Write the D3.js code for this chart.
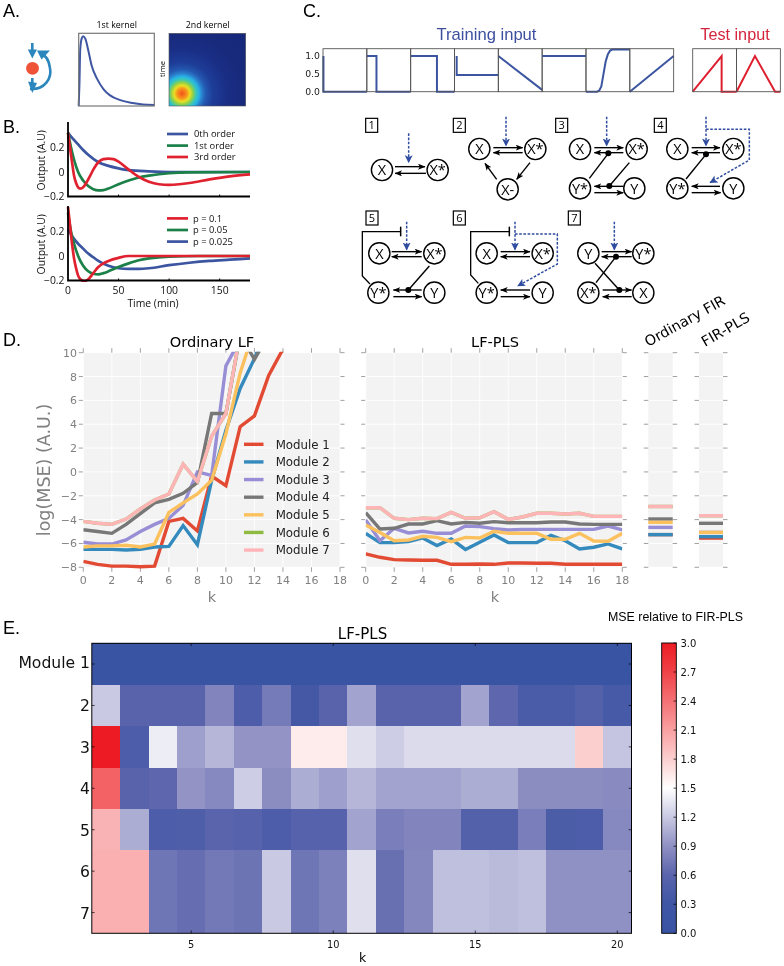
<!DOCTYPE html>
<html><head><meta charset="utf-8">
<script src="https://cdnjs.cloudflare.com/ajax/libs/d3/7.8.5/d3.min.js"></script>
<style>
html,body{margin:0;padding:0;background:#fff}
svg{display:block;filter:blur(.3px)}
text{font-family:"DejaVu Sans",sans-serif}
.os{font-family:"Open Sans",sans-serif}
.ls{font-family:"Liberation Sans",sans-serif}
</style></head><body>
<script>
// ---------- data ----------
const kernelT=[0,.01,.02,.04,.06,.09,.13,.17,.24,.33,.41,.55,.72,.85,1];
const kernelV=[0,.31,.77,.93,.96,.92,.75,.56,.38,.23,.15,.08,.04,.02,.015];
const kernel2Radii=[0,5,8,11,14,17,20,24,31,45,60,95];
const kernel2Colors=['#f0521c','#f8951c','#e9e023','#8fd04a','#3cc7b4','#27b4e6','#2a80cc','#2458b0','#1d3d98','#1a2e86','#172a7c','#15277a'];

const bTimeTop0=[0,5,10,15,20,30,40,50,60,80,100,180];
const bOrder0=[.32,.27,.225,.18,.14,.08,.05,.03,.015,.005,0,0];
const bTimeTop1=[0,3,6,10,15,20,25,30,35,40,50,60,70,80,100,120,180];
const bOrder1=[.32,.2,.1,0,-.07,-.115,-.14,-.15,-.148,-.135,-.1,-.07,-.045,-.03,-.01,-.003,0];
const bTimeTop3=[0,2,4,6,8,10,12,15,18,22,25,30,35,40,45,50,60,70,80,90,100,110,120,140,160,180];
const bOrder3=[.32,.2,.08,-.03,-.09,-.125,-.135,-.125,-.09,-.03,.02,.08,.105,.11,.105,.085,.02,-.04,-.08,-.1,-.105,-.1,-.09,-.06,-.035,-.02];
const bTimeP1=[0,2,4,6,8,10,13,16,20,25,30,35,40,50,60,70,180];
const bP1=[.4,.25,.1,-.02,-.1,-.16,-.195,-.205,-.19,-.14,-.09,-.06,-.04,-.015,0,0,0];
const bTimeP05=[0,3,6,10,15,20,25,30,35,40,50,60,70,80,100,130,180];
const bP05=[.35,.2,.1,0,-.08,-.125,-.145,-.15,-.14,-.125,-.09,-.06,-.035,-.02,-.005,0,0];
const bTimeP025=[0,5,10,15,20,25,30,40,50,60,70,80,100,120,140,160,180];
const bP025=[.22,.15,.1,.06,.02,-.01,-.04,-.08,-.1,-.105,-.105,-.1,-.075,-.055,-.04,-.03,-.02];

const trainInputs=[
 [[0.01,1],[0.01,0],[1,0]],
 [[0,1],[.22,1],[.22,0],[1,0]],
 [[0,1],[.6,1],[.6,0],[1,0]],
 [[.05,1],[.05,.47],[1,.47]],
 [[0,1],[1,.05]],
 [[0,1],[1,1]],
 [[0,0],[.25,0],[.3,.03],[.35,.15],[.4,.5],[.45,.85],[.5,1.05],[.55,1.15],[.6,1.18],[1,1.18]],
 [[0,0],[1,1]]];
const testInputs=[
 [[0,0],[.66,1],[.66,0],[1,0]],
 [[0,0],[.42,1],[.88,0],[1,0]]];

const moduleNames=['Module 1','Module 2','Module 3','Module 4','Module 5','Module 6','Module 7'];
const moduleColors=['#e24a33','#348abd','#988ed5','#777777','#fbc15e','#8eba42','#ffb5b8'];
const kValues=d3.range(0,19);
const lf1=[-7.5,-7.75,-7.9,-7.9,-7.95,-7.9,-4.15,-3.9,-4.95,-.35,-1.15,3.8,4.7,8.1,10.3,14,14,14,14];
const lf2=[-6.5,-6.5,-6.5,-6.55,-6.5,-6.3,-6.25,-4.5,-6.1,-.7,3.5,7,9.5,12.5,14,14,14,14,14];
const lf3=[-5.9,-6.05,-6.05,-5.7,-5,-4.4,-3.9,-2.8,0,-.3,8.9,11.1,14,14,14,14,14,14,14];
const lf4=[-4.85,-5,-5.15,-4.4,-3.5,-2.6,-2.3,-1.8,-.9,4.9,4.9,11.5,9.45,11.5,15,15,15,15,15];
const lf5=[-6.3,-6.2,-6.2,-6.15,-6.3,-6.05,-3.4,-2.6,-1.85,-.7,3.2,8.3,12,15,15,15,15,15,15];
const lf6=[-4.15,-4.3,-4.4,-3.95,-3.1,-2.35,-1.85,.65,-.8,3,4.9,11.6,15,15,15,15,15,15,15];
const lf7=[-4.15,-4.3,-4.4,-3.95,-3.1,-2.35,-1.85,.65,-.8,3,4.9,11.6,15,15,15,15,15,15,15];
const lfSeries=[lf1,lf2,lf3,lf4,lf5,lf6,lf7];
const pls1=[-6.88,-7.16,-7.36,-7.39,-7.41,-7.41,-7.75,-7.75,-7.72,-7.75,-7.64,-7.64,-7.66,-7.66,-7.75,-7.75,-7.75,-7.75,-7.75];
const pls2=[-5.15,-5.93,-5.93,-5.85,-5.54,-6.18,-5.63,-6.5,-5.9,-5.29,-5.93,-5.93,-5.93,-5.32,-5.77,-6.46,-6.32,-6.04,-6.46];
const pls3=[-4.03,-5.77,-4.73,-5.12,-4.98,-5.15,-5.15,-4.54,-4.59,-4.76,-4.87,-4.82,-4.82,-4.82,-4.82,-4.82,-4.82,-4.54,-4.87];
const pls4=[-3.42,-4.79,-4.73,-4.37,-4.37,-4.09,-4.37,-4.23,-4.31,-4.17,-4.26,-4.26,-4.26,-4.2,-4.2,-4.37,-4.4,-4.4,-4.4];
const pls5=[-4.45,-5.09,-5.77,-5.71,-5.4,-5.49,-5.85,-5.49,-5.54,-4.98,-5.15,-5.15,-5.15,-5.65,-5.65,-5.15,-5.79,-5.82,-5.15];
const pls6=[-3,-3,-3.89,-4,-3.89,-3.92,-3.39,-3.89,-3.84,-3.34,-3.98,-3.78,-3.47,-3.47,-3.53,-3.47,-3.73,-3.73,-3.73];
const pls7=[-3,-3,-3.89,-4,-3.89,-3.92,-3.39,-3.89,-3.84,-3.34,-3.98,-3.78,-3.47,-3.47,-3.53,-3.47,-3.73,-3.73,-3.73];
const plsSeries=[pls1,pls2,pls3,pls4,pls5,pls6,pls7];
const firOrdinary=[-5.26,-5.26,-4.65,-3.95,-4.23,-2.9,-2.9];
const firPls=[-5.55,-5.43,-5.07,-4.31,-5.07,-3.67,-3.67];

const heatK=d3.range(2,21);
const heatM=d3.range(1,8);
const heatRow1=[.05,.05,.05,.05,.05,.05,.05,.05,.05,.05,.05,.05,.05,.05,.05,.05,.05,.05,.05];
const heatRow2=[1.2,.58,.58,.58,.82,.45,.75,.35,.58,1.0,.58,.58,.58,1.0,.62,.42,.42,.52,.38];
const heatRow3=[3.0,.45,1.4,.98,1.1,.92,.92,1.62,1.62,1.32,1.22,1.3,1.3,1.3,1.3,1.3,1.3,1.8,1.18];
const heatRow4=[2.5,.58,.62,.92,.85,1.22,.88,1.05,.98,1.1,1.0,1.0,1.0,1.05,1.05,.88,.88,.88,.86];
const heatRow5=[1.98,1.05,.45,.48,.6,.56,.46,.56,.56,1.0,.78,.82,.82,.52,.52,.78,.44,.46,.85];
const heatRow6=[2.0,2.0,.72,.67,.74,.71,1.2,.72,.8,1.32,.68,.84,1.15,1.15,1.12,1.15,.9,.9,.9];
const heatRow7=[2.0,2.0,.72,.67,.74,.71,1.2,.72,.8,1.32,.68,.84,1.15,1.15,1.12,1.15,.9,.9,.9];
const heatRows=[heatRow1,heatRow2,heatRow3,heatRow4,heatRow5,heatRow6,heatRow7];
const cbDomain=[0,.3,.6,.9,1.2,1.5,1.8,2.1,2.4,2.7,3];
const cbColors=['#3953a4','#3f56a5','#5a64ac','#8f90c3','#c9c9e3','#ffffff','#fccfcf','#f9a0a2','#f47174','#f04347','#ed1c24'];
const cbTicks=d3.range(0,11).map(i=>i*.3);

// ---------- setup ----------
const svg=d3.select('body').append('svg').attr('width',784).attr('height',966).attr('viewBox','0 0 784 966');
const defs=svg.append('defs');
let clipId=0;
function clip(x,y,w,h){const id='c'+(clipId++);defs.append('clipPath').attr('id',id).append('rect').attr('x',x).attr('y',y).attr('width',w).attr('height',h);return `url(#${id})`;}
function txt(x,y,s,size,opt={}){
  const t=svg.append('text').attr('x',x).attr('y',y).attr('font-size',size).text(s)
   .attr('text-anchor',opt.anchor||'start').attr('fill',opt.fill||'#000');
  if(opt.cls)t.attr('class',opt.cls);
  if(opt.rot!==undefined)t.attr('transform',`rotate(${opt.rot} ${x} ${y})`);
  return t;
}
// ---------- panel letters ----------
[['A.',3,17],['B.',3,133],['C.',303,17],['D.',3,346],['E.',3,634]].forEach(d=>txt(d[1],d[2],d[0],18,{cls:'ls'}));

// ---------- panel A ----------
const blue='#2b86bd';
svg.append('circle').attr('cx',32.5).attr('cy',68.3).attr('r',6.4).attr('fill','#ee5237');
const agA=svg.append('g').attr('fill','none').attr('stroke',blue).attr('stroke-width',2.6);
agA.append('path').attr('d','M32.3 43V55');
agA.append('path').attr('d','M32.3 78V88');
agA.append('path').attr('d','M30 89 C45 90 52 78 50 68 C49 60 45 55 41 53');
svg.append('path').attr('fill',blue).attr('d','M27.8 49.5L37 49.5L32.3 58.5Z');
svg.append('path').attr('fill',blue).attr('d','M28 81.5L37 83L32.3 93Z');
svg.append('path').attr('fill',blue).attr('d','M37 50.5L50 50.5L41.5 59.5Z');

const k1x=d3.scaleLinear([0,1],[78.7,154.3]), k1y=d3.scaleLinear([0,1],[106,33.3]);
svg.append('path').datum(kernelT.map((t,i)=>[t,kernelV[i]])).attr('fill','none').attr('stroke','#3f57a2').attr('stroke-width',2)
 .attr('d',d3.line().x(d=>k1x(d[0])).y(d=>k1y(d[1])).curve(d3.curveMonotoneX));
svg.append('rect').attr('x',78.7).attr('y',33.3).attr('width',75.6).attr('height',72.7).attr('fill','none').attr('stroke','#777').attr('stroke-width',1.2);
txt(116.7,28,'1st kernel',8.8,{anchor:'middle',cls:'os'});
txt(207.7,28,'2nd kernel',8.8,{anchor:'middle',cls:'os'});
txt(165,69,'time',7.6,{anchor:'middle',cls:'os',rot:-90});
const rg=defs.append('radialGradient').attr('id','k2').attr('gradientUnits','userSpaceOnUse').attr('cx',182).attr('cy',93.5).attr('r',95);
kernel2Radii.forEach((r,i)=>rg.append('stop').attr('offset',r/95).attr('stop-color',kernel2Colors[i]));
svg.append('rect').attr('x',169).attr('y',33.3).attr('width',76.7).attr('height',72.7).attr('fill','url(#k2)').attr('stroke','#555').attr('stroke-width',.6);

// ---------- panel B ----------
const bx=d3.scaleLinear([0,180],[68,250]);
const redB='#e02230',greenB='#1c8049',blueB='#3b55a0';
function panelB(y0,yZero,series,legend,legY,legTx){
  const y=d3.scaleLinear([-.2,0,.2],[yZero+24.5,yZero,yZero-24.5]);
  const top=y0, bottom=yZero+24.5;
  const g=svg.append('g').attr('clip-path',clip(60,top,192,bottom-top+1.5));
  series.forEach(s=>{
    g.append('path').datum(s.t.map((t,i)=>[t,s.v[i]])).attr('fill','none').attr('stroke',s.c).attr('stroke-width',2.7)
     .attr('d',d3.line().x(d=>bx(d[0])).y(d=>y(d[1])).curve(d3.curveMonotoneX));
  });
  svg.append('path').attr('fill','none').attr('stroke','#000').attr('stroke-width',1.8).attr('d',`M68 ${top}V${bottom}H250`);
  [50,100,150].forEach(v=>svg.append('line').attr('x1',bx(v)).attr('x2',bx(v)).attr('y1',bottom).attr('y2',bottom-2).attr('stroke','#000').attr('stroke-width',1));
  [[.2,'0.2'],[0,'0'],[-.2,'\u22120.2']].forEach(d=>{
    txt(64.5,y(d[0])+3.7,d[1],10.4,{anchor:'end',cls:'os',fill:'#111'});
  });
  legend.forEach((d,i)=>{
    svg.append('line').attr('x1',167).attr('x2',188).attr('y1',legY[i]).attr('y2',legY[i]).attr('stroke',d.c).attr('stroke-width',2.7);
    txt(legTx,legY[i]+3.4,d.n,9.4,{cls:'os',fill:'#111'});
  });
  txt(44.5,(top+bottom)/2+1,'Output (A.U)',10.4,{anchor:'middle',cls:'os',rot:-90,fill:'#111'});
}
panelB(122,172,[
 {t:bTimeTop0,v:bOrder0,c:blueB},{t:bTimeTop1,v:bOrder1,c:greenB},{t:bTimeTop3,v:bOrder3,c:redB}],
 [{n:'0th order',c:blueB},{n:'1st  order',c:greenB},{n:'3rd order',c:redB}],[134,145.6,157],194);
panelB(206,256,[
 {t:bTimeP025,v:bP025,c:blueB},{t:bTimeP05,v:bP05,c:greenB},{t:bTimeP1,v:bP1,c:redB}],
 [{n:'p = 0.1',c:redB},{n:'p = 0.05',c:greenB},{n:'p = 0.025',c:blueB}],[218.4,230,241.6],193);
[0,50,100,150].forEach(v=>txt(bx(v),293.5,String(v),10.4,{anchor:'middle',cls:'os',fill:'#111'}));
txt(153,306.5,'Time (min)',10.4,{anchor:'middle',cls:'os',fill:'#111'});

// ---------- panel C: inputs ----------
const boxW=43.83, inTop=48.7, inBot=91.7;
const iy=d3.scaleLinear([0,1],[inBot,56]);
function inputBoxes(x0,list,color){
  list.forEach((s,i)=>{
    const bx0=x0+i*boxW;
    const ix=d3.scaleLinear([0,1],[bx0,bx0+boxW]);
    svg.append('path').datum(s).attr('fill','none').attr('stroke',color).attr('stroke-width',2)
      .attr('d',d3.line().x(d=>ix(d[0])).y(d=>iy(d[1])));
    svg.append('rect').attr('x',bx0).attr('y',inTop).attr('width',boxW).attr('height',inBot-inTop).attr('fill','none').attr('stroke','#555').attr('stroke-width',.9);
  });
}
inputBoxes(323,trainInputs,'#3b55a0');
inputBoxes(692.7,testInputs,'#dd2030');
[[1,'1.0'],[.5,'0.5'],[0,'0.0']].forEach(d=>txt(320,iy(d[0])+3.3,d[1],9.3,{anchor:'end',fill:'#222'}));
txt(486.5,40,'Training input',16.6,{anchor:'middle',cls:'ls',fill:'#3d4f9f'});
txt(735,40,'Test input',16.2,{anchor:'middle',cls:'ls',fill:'#d4253f'});

// ---------- panel C: network diagrams (drawn in a 3x working space) ----------
const arrowId=(id,c,w,h)=>{defs.append('marker').attr('id',id).attr('viewBox',`0 0 ${w} ${h}`).attr('refX',w-.5).attr('refY',h/2)
  .attr('markerWidth',w).attr('markerHeight',h).attr('markerUnits','userSpaceOnUse').attr('orient','auto')
  .append('path').attr('d',`M0 0L${w} ${h/2}L0 ${h}L${w*.25} ${h/2}Z`).attr('fill',c);};
arrowId('ab',"#000",7.5,6);arrowId('ad','#2f4ca0',8,8);
const zx=v=>350+v/3, zy=v=>110+v/3;
const diagrams=[
 {n:'1',box:[47,25],nodes:[['X',96,180],['X*',263,180]],
  arrows:[[135,170,225,170],[228,190,135,190]],dash:[[176,70,176,158]]},
 {n:'2',box:[310,25],nodes:[['X',388,117],['X*',556,117],['X-',473,238]],
  arrows:[[430,113,518,113],[518,128,430,128],[540,158,500,208],[440,208,405,160]],dash:[[468,20,468,108]]},
 {n:'3',box:[617,25],nodes:[['X',690,117],['X*',860,117],['Y*',690,235],['Y',853,235]],
  arrows:[[733,113,820,113],[820,128,733,128],[820,229,733,229],[733,248,820,248]],dash:[[770,20,770,108]],
  dots:[[775,130],[778,228]],lines:[[718,205,775,130],[838,158,778,228]]},
 {n:'4',box:[913,25],nodes:[['X',982,117],['X*',1150,117],['Y*',982,235],['Y',1150,235]],
  arrows:[[1025,113,1110,113],[1110,128,1025,128],[1110,229,1025,229],[1025,248,1112,248]],dash:[[1068,20,1068,108]],
  dots:[[1068,133]],lines:[[1008,207,1068,133]],dpath:[[1068,58],[1198,58],[1198,150],[1080,218]]},
 {n:'5',box:[48,303],nodes:[['X',88,430],['X*',253,430],['Y*',85,548],['Y',253,548]],
  arrows:[[125,425,215,425],[215,440,125,440],[215,540,130,540],[130,560,215,560]],dash:[[170,335,170,420]],
  dots:[[175,540]],lines:[[238,468,175,540]],inhib:[[60,522],[37,498],[37,365],[152,365]]},
 {n:'6',box:[310,303],nodes:[['X',410,430],['X*',578,430],['Y*',410,548],['Y',578,548]],
  arrows:[[452,425,540,425],[540,440,452,440],[540,540,452,540],[452,560,540,560]],dash:[[495,335,495,420]],
  inhib:[[385,520],[362,495],[362,365],[478,365]],dpath:[[495,372],[622,372],[622,462],[503,528]]},
 {n:'7',box:[655,303],nodes:[['Y',715,430],['Y*',880,430],['X*',715,548],['X',880,548]],
  arrows:[[755,425,845,425],[845,440,755,440],[758,540,845,540],[845,560,758,560]],dash:[[793,335,793,420]],
  dots:[[798,440],[808,540]],lines:[[738,518,798,440],[735,460,808,540]]}
];
const zline=d3.line().x(d=>zx(d[0])).y(d=>zy(d[1]));
diagrams.forEach(d=>{
  const g=svg.append('g');
  g.append('rect').attr('x',zx(d.box[0])).attr('y',zy(d.box[1])).attr('width',12).attr('height',14).attr('fill','#fff').attr('stroke','#000').attr('stroke-width',1.2);
  g.append('text').attr('x',zx(d.box[0])+6).attr('y',zy(d.box[1])+11).attr('text-anchor','middle').attr('font-size',11).attr('class','os').text(d.n);
  (d.lines||[]).forEach(l=>g.append('line').attr('x1',zx(l[0])).attr('y1',zy(l[1])).attr('x2',zx(l[2])).attr('y2',zy(l[3])).attr('stroke','#000').attr('stroke-width',1.4));
  d.arrows.forEach(l=>g.append('line').attr('x1',zx(l[0])).attr('y1',zy(l[1])).attr('x2',zx(l[2])).attr('y2',zy(l[3])).attr('stroke','#000').attr('stroke-width',1.4).attr('marker-end','url(#ab)'));
  (d.dots||[]).forEach(p=>g.append('circle').attr('cx',zx(p[0])).attr('cy',zy(p[1])).attr('r',3).attr('fill','#000'));
  if(d.inhib){
    const p=d.inhib;g.append('path').attr('d',zline(p)).attr('fill','none').attr('stroke','#000').attr('stroke-width',1.3);
    const e=p[p.length-1];g.append('line').attr('x1',zx(e[0])).attr('x2',zx(e[0])).attr('y1',zy(e[1]-15)).attr('y2',zy(e[1]+14)).attr('stroke','#000').attr('stroke-width',1.5);
  }
  (d.dash||[]).forEach(l=>g.append('line').attr('x1',zx(l[0])).attr('y1',zy(l[1])).attr('x2',zx(l[2])).attr('y2',zy(l[3])).attr('stroke','#2f4ca0').attr('stroke-width',1.5).attr('stroke-dasharray','2.6 1.6').attr('marker-end','url(#ad)'));
  if(d.dpath)g.append('path').attr('d',zline(d.dpath)).attr('fill','none').attr('stroke','#2f4ca0').attr('stroke-width',1.5).attr('stroke-dasharray','2.6 1.6').attr('marker-end','url(#ad)');
  d.nodes.forEach(n=>{
    g.append('circle').attr('cx',zx(n[1])).attr('cy',zy(n[2])).attr('r',10.6).attr('fill','#fff').attr('stroke','#000').attr('stroke-width',1.4);
    g.append('text').attr('x',zx(n[1])).attr('y',zy(n[2])+5.3).attr('text-anchor','middle').attr('font-size',14.5).attr('class','os').text(n[0]);
  });
});

// ---------- panel D ----------
const dYVals=d3.range(-8,11,2), dXVals=d3.range(0,19,2);
const dTop=352.7, dBot=567.3;
const dYs=d3.scaleLinear([-8,10],[dBot,dTop]);
const greyTxt='#808080';
function dPanel(x0,x1,opts){
  const g=svg.append('g');
  g.append('rect').attr('x',x0).attr('y',dTop).attr('width',x1-x0).attr('height',dBot-dTop).attr('fill','#f3f3f3');
  const xs=d3.scaleLinear([0,18],[x0,x1]);
  dYVals.forEach(v=>{
    const y=dYs(v);
    g.append('line').attr('x1',x0).attr('x2',x1).attr('y1',y).attr('y2',y).attr('stroke','#fff').attr('stroke-width',.9);
    g.append('line').attr('x1',x0-4.5).attr('x2',x0).attr('y1',y).attr('y2',y).attr('stroke','#888').attr('stroke-width',.8);
    g.append('line').attr('x1',x1).attr('x2',x1+4.5).attr('y1',y).attr('y2',y).attr('stroke','#888').attr('stroke-width',.8);
  });
  if(opts.xticks){
    dXVals.forEach(v=>{
      const x=xs(v);
      g.append('line').attr('x1',x).attr('x2',x).attr('y1',dTop).attr('y2',dBot).attr('stroke','#fff').attr('stroke-width',.9);
      g.append('line').attr('x1',x).attr('x2',x).attr('y1',dTop-4.5).attr('y2',dTop).attr('stroke','#888').attr('stroke-width',.8);
      g.append('line').attr('x1',x).attr('x2',x).attr('y1',dBot).attr('y2',dBot+4.5).attr('stroke','#888').attr('stroke-width',.8);
      txt(x,dBot+17,String(v),11,{anchor:'middle',fill:greyTxt});
    });
  }
  return {g,xs};
}
const line=(xs)=>d3.line().x((d,i)=>xs(kValues[i])).y(d=>dYs(d));
{
 const p=dPanel(83.3,340,{xticks:true});
 const c=clip(83.3,dTop-1,256.7,dBot-dTop+4);
 const lg=svg.append('g').attr('clip-path',c);
 lfSeries.forEach((s,i)=>lg.append('path').datum(s).attr('fill','none').attr('stroke',moduleColors[i]).attr('stroke-width',3.4).attr('stroke-linejoin','miter').attr('d',line(p.xs)));
 dYVals.forEach(v=>txt(77,dYs(v)+4,String(v).replace('-','\u2212'),11,{anchor:'end',fill:greyTxt}));
 moduleNames.forEach((n,i)=>{
   const y=444.3+i*17.63;
   svg.append('line').attr('x1',244).attr('x2',263.5).attr('y1',y).attr('y2',y).attr('stroke',moduleColors[i]).attr('stroke-width',3.4);
   txt(275.7,y+4.2,n,11.8,{fill:'#222'});
 });
 txt(212,347,'Ordinary LF',14.6,{anchor:'middle'});
 txt(212,601.7,'k',14.5,{anchor:'middle',fill:greyTxt});
 txt(50,470,'log(MSE) (A.U.)',17.5,{anchor:'middle',rot:-90,fill:greyTxt});
}
{
 const p=dPanel(365.7,622.3,{xticks:true});
 const lg=svg.append('g').attr('clip-path',clip(365.7,dTop,256.6,dBot-dTop));
 plsSeries.forEach((s,i)=>lg.append('path').datum(s).attr('fill','none').attr('stroke',moduleColors[i]).attr('stroke-width',3.4).attr('d',line(p.xs)));
 txt(495,347,'LF-PLS',14.6,{anchor:'middle'});
 txt(495,601.7,'k',14.5,{anchor:'middle',fill:greyTxt});
}
function firPanel(x0,x1,vals){
  dPanel(x0,x1,{xticks:false});
  vals.forEach((v,i)=>{svg.append('line').attr('x1',x0).attr('x2',x1).attr('y1',dYs(v)).attr('y2',dYs(v)).attr('stroke',moduleColors[i]).attr('stroke-width',3.4);});
}
firPanel(648.3,672.7,firOrdinary);
firPanel(699,723,firPls);
txt(648,347,'Ordinary FIR',14.4,{rot:-29});
txt(705,347,'FIR-PLS',14.4,{rot:-30});

// ---------- panel E ----------
const hx=d3.scaleLinear([1.5,20.5],[91.8,631.5]);
const hy=d3.scaleLinear([.5,7.5],[643.3,933.3]);
const hc=d3.scaleLinear(cbDomain,cbColors);
const gh=svg.append('g').attr('shape-rendering','crispEdges');
heatRows.forEach((row,r)=>row.forEach((v,c)=>{
  const k=heatK[c], m=heatM[r];
  gh.append('rect').attr('x',hx(k-.5)).attr('y',hy(m-.5)).attr('width',hx(k+.5)-hx(k-.5)).attr('height',hy(m+.5)-hy(m-.5)).attr('fill',hc(v));
}));
svg.append('rect').attr('x',91.8).attr('y',643.3).attr('width',539.7).attr('height',290).attr('fill','none').attr('stroke','#000').attr('stroke-width',1);
[5,10,15,20].forEach(v=>{
  svg.append('line').attr('x1',hx(v)).attr('x2',hx(v)).attr('y1',933.3).attr('y2',930.5).attr('stroke','#000').attr('stroke-width',.7);
  svg.append('line').attr('x1',hx(v)).attr('x2',hx(v)).attr('y1',643.3).attr('y2',646).attr('stroke','#000').attr('stroke-width',.7);
  txt(hx(v),948,String(v),9.8,{anchor:'middle',fill:'#111'});
});
heatM.forEach(m=>{
  const y=hy(m);
  svg.append('line').attr('x1',91.8).attr('x2',94.6).attr('y1',y).attr('y2',y).attr('stroke','#000').attr('stroke-width',.7);
  svg.append('line').attr('x1',631.5).attr('x2',628.7).attr('y1',y).attr('y2',y).attr('stroke','#000').attr('stroke-width',.7);
  txt(90,y+(m===1?4:6),m===1?'Module  1':String(m),15.6,{anchor:'end',fill:'#111'});
});
txt(362.5,638.5,'LF-PLS',15,{anchor:'middle'});
txt(362.5,962,'k',12.5,{anchor:'middle'});
txt(608,621,'MSE relative to FIR-PLS',12.4,{cls:'ls'});
const cb=defs.append('linearGradient').attr('id','cb').attr('x1',0).attr('x2',0).attr('y1',1).attr('y2',0);
cbDomain.forEach((v,i)=>cb.append('stop').attr('offset',v/3).attr('stop-color',cbColors[i]));
svg.append('rect').attr('x',661.7).attr('y',643).attr('width',14.6).attr('height',290.3).attr('fill','url(#cb)').attr('stroke','#000').attr('stroke-width',.9);
const cby=d3.scaleLinear([0,3],[933.3,643]);
cbTicks.forEach(v=>{
  svg.append('line').attr('x1',673.5).attr('x2',676.3).attr('y1',cby(v)).attr('y2',cby(v)).attr('stroke','#000').attr('stroke-width',.7);
  txt(680.5,cby(v)+3.6,v.toFixed(1),10,{fill:'#111'});
});
</script>
</body></html>
